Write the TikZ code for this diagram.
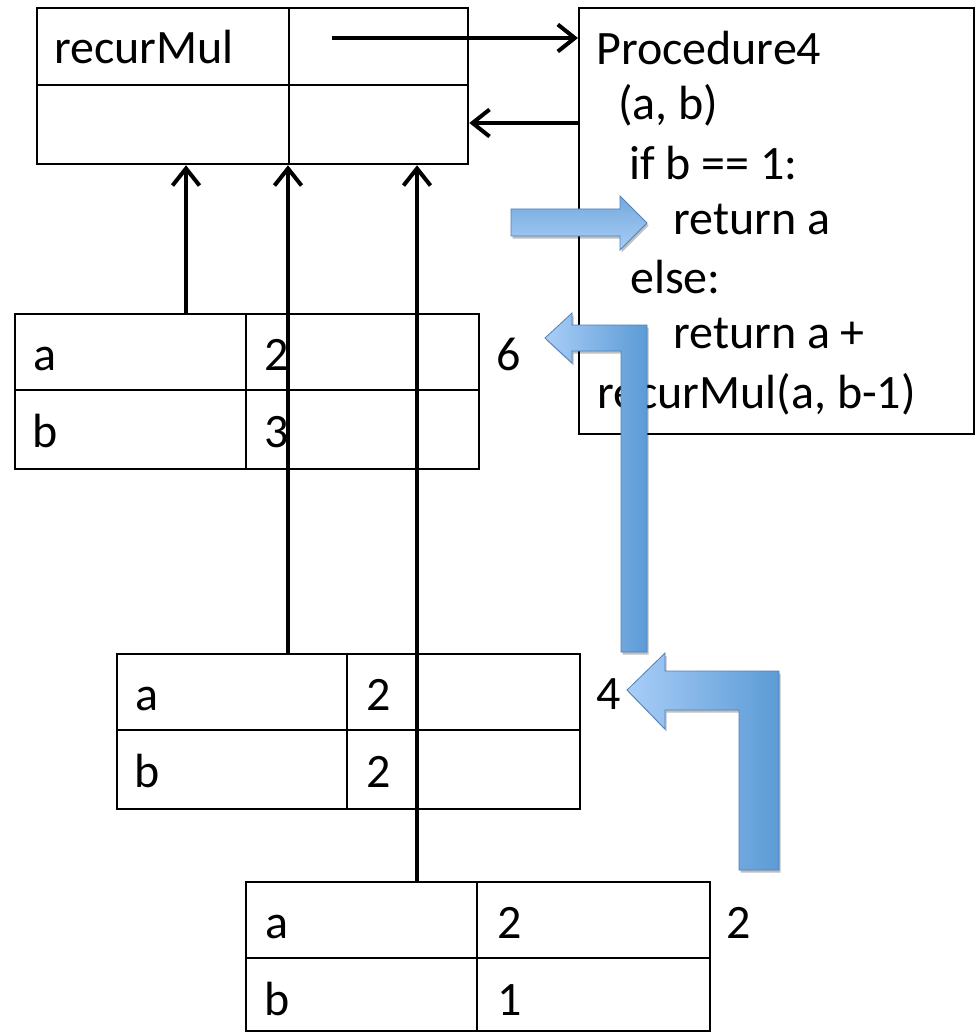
\documentclass[tikz,border=0pt]{standalone}
\usepackage{fontspec}
\setmainfont{Carlito}
\usetikzlibrary{arrows.meta,shadows,calc}
\definecolor{bluedark}{HTML}{5B9BD5}
\definecolor{bluelight}{HTML}{A9CDF7}
\definecolor{blueedge}{HTML}{4F81BD}
\tikzset{
  tbl/.style={draw=black, line width=2.3pt, rectangle, inner sep=0pt, anchor=north west},
  procbox/.style={draw=black, line width=1.7pt, rectangle, inner sep=0pt, anchor=north west},
  sep/.style={draw=black, line width=2.3pt},
  lbl/.style={inner sep=0pt, anchor=base west, font=\fontsize{48}{57}\selectfont},
  ptr/.style={draw=black, line width=4pt, -{Straight Barb[length=17pt,width=27pt]}},
  blockarrow/.style={draw=blueedge, line width=0.8pt,
     drop shadow={shadow xshift=1.5pt, shadow yshift=-2.5pt, opacity=0.25, fill=black}},
}
\begin{document}
\begin{tikzpicture}[x=1pt,y=-1pt]
\useasboundingbox[fill=white] (0,0) rectangle (975,1032);

% top frame table
\node[tbl, minimum width=431pt, minimum height=156pt] (t0) at (36,7) {};
\draw[sep] (t0.west |- 0,85) -- (t0.east |- 0,85);
\draw[sep] (t0.north -| 289,0) -- (t0.south -| 289,0);
\node[lbl] (t0name) at (54,64) {recurMul};

% procedure box
\node[procbox, minimum width=395pt, minimum height=426pt] (proc) at (578,7) {};
\node[lbl] (p1) at (596,65) {Procedure4};
\node[lbl] (p2) at (618,120) {(a, b)};
\node[lbl] (p3) at (629,180) {if b == 1:};
\node[lbl] (p4) at (673,235) {return a};
\node[lbl] (p5) at (630,293) {else:};
\node[lbl] (p6) at (673,348) {return a +};
\node[lbl] (p7) at (597,408) {recurMul(a, b-1)};

% table 1
\node[tbl, minimum width=464pt, minimum height=155pt] (t1) at (14,313) {};
\draw[sep] (t1.west |- 0,390) -- (t1.east |- 0,390);
\draw[sep] (t1.north -| 246,0) -- (t1.south -| 246,0);
\node[lbl] (t1a) at (33,370) {a};
\node[lbl] (t1av) at (264,370) {2};
\node[lbl] (t1b) at (32,447) {b};
\node[lbl] (t1bv) at (264,447) {3};
\node[lbl] (r1) at (496,370) {6};

% table 2
\node[tbl, minimum width=463pt, minimum height=155pt] (t2) at (116,653) {};
\draw[sep] (t2.west |- 0,730) -- (t2.east |- 0,730);
\draw[sep] (t2.north -| 347,0) -- (t2.south -| 347,0);
\node[lbl] (t2a) at (135,710) {a};
\node[lbl] (t2av) at (366,710) {2};
\node[lbl] (t2b) at (134,787) {b};
\node[lbl] (t2bv) at (366,787) {2};
\node[lbl] (r2) at (596,709) {4};

% table 3
\node[tbl, minimum width=464pt, minimum height=149pt] (t3) at (245,881) {};
\draw[sep] (t3.west |- 0,958) -- (t3.east |- 0,958);
\draw[sep] (t3.north -| 477,0) -- (t3.south -| 477,0);
\node[lbl] (t3a) at (265,938) {a};
\node[lbl] (t3av) at (497,938) {2};
\node[lbl] (t3b) at (264,1015) {b};
\node[lbl] (t3bv) at (497,1015) {1};
\node[lbl] (r3) at (726,938) {2};

% black pointers
\draw[ptr] (332,38) -- (proc.west |- 0,38);
\draw[ptr] (proc.west |- 0,123) -- (t0.east |- 0,123);
\draw[ptr] (t1.north -| 186,0) -- (t0.south -| 186,0);
\draw[ptr] (t2.north -| 288,0) -- (t0.south -| 288,0);
\draw[ptr] (t3.north -| 417,0) -- (t0.south -| 417,0);

% blue block arrows
\path[blockarrow, top color=bluedark!85!white, bottom color=bluelight]
  (511,209) -- (620,209) -- (620,196) -- (647,223) -- (620,250) -- (620,236) -- (511,236) -- cycle;
\path[blockarrow, left color=bluelight, right color=bluedark]
  (621,652) -- (647,652) -- (647,325) -- (572,325) -- (572,313) -- (545,338) -- (572,363) -- (572,351) -- (621,351) -- cycle;
\path[blockarrow, left color=bluelight, right color=bluedark]
  (739,870) -- (779,870) -- (779,671) -- (665,671) -- (665,653) -- (627,690) -- (665,729) -- (665,710) -- (739,710) -- cycle;
\end{tikzpicture}
\end{document}
